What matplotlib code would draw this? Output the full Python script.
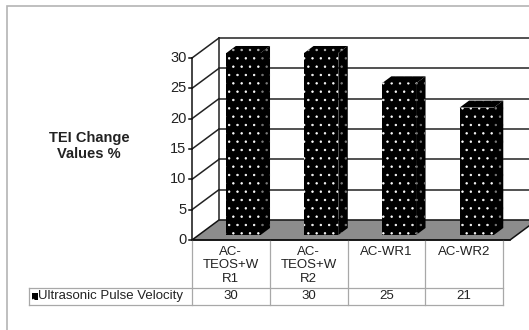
import matplotlib.pyplot as plt
from matplotlib.patches import Polygon, Rectangle

plt.rcParams['font.family'] = ['Liberation Sans', 'DejaVu Sans']
plt.rcParams['hatch.linewidth'] = 0.5

categorias = ['AC-\nTEOS+W\nR1', 'AC-\nTEOS+W\nR2', 'AC-WR1', 'AC-WR2']
valores = [30, 30, 25, 21]
serie = 'Ultrasonic Pulse Velocity'
ticks_y = [0, 5, 10, 15, 20, 25, 30]
etiqueta_y = 'TEI Change\nValues %'

W, H = 529, 330
fig = plt.figure(figsize=(W / 100, H / 100), dpi=100)

# marco gris exterior
fig.add_artist(Rectangle((7 / W, -0.1), 1.2, (H - 6) / H + 0.1, transform=fig.transFigure,
                         fill=False, edgecolor='#b4b4b4', linewidth=1.2))

ax = fig.add_axes([192 / W, 90 / H, 311 / W, 182 / H])
ax.set_xlim(0, 4)
ax.set_ylim(0, 30)
ax.axis('off')

DX, DY = 0.3475, 3.3   # profundidad en unidades de datos
XR = 4.09              # borde derecho del piso
XFAR = 6

# pared del fondo
ax.add_patch(Polygon([(DX, DY), (XFAR, DY), (XFAR, 30 + DY), (DX, 30 + DY)],
                     closed=True, facecolor='white', edgecolor='none', clip_on=False))
for t in ticks_y[1:]:
    ax.plot([DX, XFAR], [t + DY, t + DY], color='#222222', lw=1.1, clip_on=False)
    ax.plot([0, DX], [t, t + DY], color='#222222', lw=1.1, clip_on=False)
ax.plot([DX, DX], [DY, 30 + DY], color='#222222', lw=1.1, clip_on=False)

# piso
ax.add_patch(Polygon([(0, 0), (XR, 0), (XR + DX, DY), (DX, DY)], closed=True,
                     facecolor='#8c8c8c', edgecolor='#111111', lw=1.1, clip_on=False))

# eje y frontal
ax.plot([0, 0], [0, 30], color='#111111', lw=1.1, clip_on=False)
for t in ticks_y:
    ax.plot([-0.04, 0], [t, t], color='#111111', lw=1.1, clip_on=False)
    ax.text(-0.07, t, str(t), ha='right', va='center', fontsize=10.5, color='#222222')

ax.text((89 - 192) / 77.75, 15.5, etiqueta_y, ha='center', va='center',
        fontsize=10.5, fontweight='bold', color='#222222', linespacing=1.1)

# barras 3d
f0, f1 = 0.25, 0.6
off, bw = 0.355, 0.44
for i, v in enumerate(valores):
    x0 = i + off
    ox0, oy0 = f0 * DX, f0 * DY
    ox1, oy1 = f1 * DX, f1 * DY
    lado = [(x0 + bw + ox0, oy0), (x0 + bw + ox1, oy1), (x0 + bw + ox1, v + oy1), (x0 + bw + ox0, v + oy0)]
    tapa = [(x0 + ox0, v + oy0), (x0 + bw + ox0, v + oy0), (x0 + bw + ox1, v + oy1), (x0 + ox1, v + oy1)]
    frente = [(x0 + ox0, oy0), (x0 + bw + ox0, oy0), (x0 + bw + ox0, v + oy0), (x0 + ox0, v + oy0)]
    ax.add_patch(Polygon(lado, closed=True, facecolor='black', edgecolor='#7a7a7a',
                         hatch='..', lw=0, clip_on=False, zorder=3))
    ax.add_patch(Polygon(tapa, closed=True, facecolor='black', edgecolor='#bdbdbd',
                         hatch='..', lw=0, clip_on=False, zorder=3))
    ax.add_patch(Polygon(frente, closed=True, facecolor='black', edgecolor='white',
                         hatch='..', lw=0, clip_on=False, zorder=3))

# tabla de datos
gris = '#a8a8a8'
y_h = -48 / 6.067
y_d = -65 / 6.067
x_leg = (29 - 192) / 77.75
for k in range(len(categorias) + 1):
    ax.plot([k, k], [0, y_d], color=gris, lw=0.9, clip_on=False)
ax.plot([x_leg, len(categorias)], [y_h, y_h], color=gris, lw=0.9, clip_on=False)
ax.plot([x_leg, len(categorias)], [y_d, y_d], color=gris, lw=0.9, clip_on=False)
ax.plot([x_leg, x_leg], [y_h, y_d], color=gris, lw=0.9, clip_on=False)
ax.plot([0, XR], [0, 0], color='#111111', lw=1.1, clip_on=False)
for k, c in enumerate(categorias):
    ax.text(k + 0.5, -1.0, c, ha='center', va='top', fontsize=9.5, color='#222222', linespacing=1.15)
    ax.text(k + 0.5, (y_h + y_d) / 2, str(valores[k]), ha='center', va='center',
            fontsize=9.5, color='#222222')
ax.add_patch(Rectangle((x_leg + 0.035, (y_h + y_d) / 2 - 0.5), 0.075, 1.0, facecolor='black',
                       edgecolor='white', hatch='..', lw=0, clip_on=False))
ax.text(x_leg + 0.12, (y_h + y_d) / 2, serie, ha='left', va='center', fontsize=9.5, color='#222222')

fig.savefig('out.png', dpi=100)
